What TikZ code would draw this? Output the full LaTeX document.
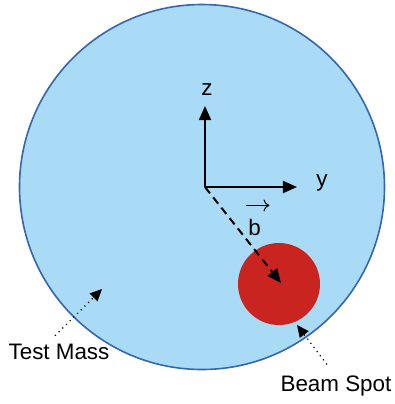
\documentclass[tikz,border=0pt]{standalone}
\usepackage{fontspec}
\setmainfont{Liberation Sans}
\usetikzlibrary{arrows.meta}
\definecolor{TMBlue}{HTML}{A9DBF6}
\definecolor{TMLine}{HTML}{3566AE}
\definecolor{BSRed}{HTML}{CA2420}

\begin{document}
\begin{tikzpicture}[x=0.5pt,y=-0.5pt,
  axis/.style={line width=1pt,-{Triangle[length=7pt,width=6pt]}},
  pointer/.style={dotted,line width=0.6pt,-{Triangle[length=6pt,width=5.5pt]}},
  lbl/.style={inner sep=0pt,font=\fontsize{11.2}{13}\selectfont}]
\path[use as bounding box] (0,0) rectangle (395,404);
% test mass and beam spot
\fill[TMBlue,draw=TMLine,line width=0.8pt] (202,187) circle[radius=182.5];
\fill[BSRed] (279,284) circle[radius=41];
% axes
\coordinate (origin) at (205,187);
\coordinate (ztip) at (205,106);
\coordinate (ytip) at (297,187);
\coordinate (spot) at (281,283);
\draw[axis] (origin) -- (ztip);
\draw[axis] (origin) -- (ytip);
\node[lbl] (zlabel) at (207,90) {z};
\node[lbl] (ylabel) at (322,183) {y};
% impact vector
\draw[line width=1pt,dash pattern=on 4pt off 2.6pt,-{Triangle[length=7pt,width=6pt]}] (origin) -- (spot);
\node[lbl] (blabel) at (254.5,227) {b};
\draw[line width=0.5pt,-{To[length=3pt,width=6pt]}] ([xshift=-4pt,yshift=6.5pt]blabel.north) -- ++(11.5pt,0);
% labels
\node[lbl] (tmlabel) at (59,352) {Test Mass};
\node[lbl] (bslabel) at (336,386) {Beam Spot};
\coordinate (tmtip) at (102,289);
\coordinate (bstip) at (297,325);
\draw[pointer] ([xshift=-2pt,yshift=4pt]tmlabel.north) -- (tmtip);
\draw[pointer] ([xshift=-4.5pt,yshift=5.5pt]bslabel.north) -- (bstip);
\end{tikzpicture}
\end{document}
